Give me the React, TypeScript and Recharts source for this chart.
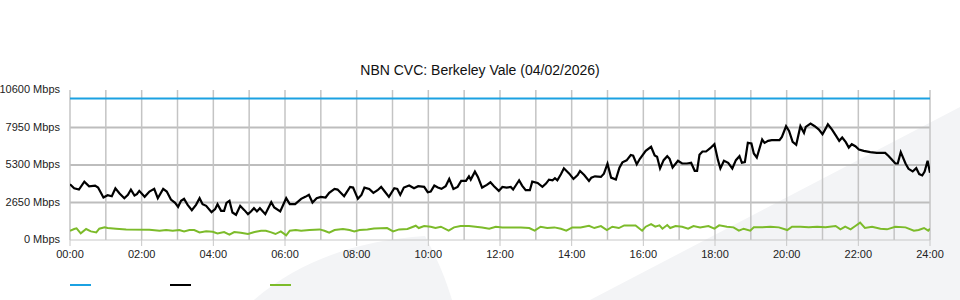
import { LineChart, Line, XAxis, YAxis, CartesianGrid } from "recharts";

// minutes after midnight / Mbps
const blueTimes = [0, 1440];
const blueValues = [10000, 10000];

const blackTimes = [
  0, 7, 15, 24, 32, 42, 47, 56, 63, 70, 76, 83, 91, 97, 102, 108, 112, 116, 125, 133, 141, 147, 156, 162, 169, 176, 181, 186,
  191, 197, 204, 211, 217, 222, 228, 237, 243, 247, 253, 258, 262, 267, 272, 278, 285, 292, 298, 303, 308, 313, 318, 327, 337,
  342, 352, 362, 368, 377, 387, 394, 400, 406, 413, 420, 428, 434, 443, 448, 459, 469, 474, 482, 488, 493, 501, 508, 515, 521,
  527, 534, 543, 548, 553, 559, 568, 576, 583, 593, 599, 604, 610, 616, 622, 629, 635, 642, 649, 655, 663, 668, 671, 678, 683,
  690, 698, 704, 710, 718, 724, 731, 738, 742, 752, 757, 763, 770, 774, 783, 791, 797, 802, 808, 812, 816, 822, 827, 836, 843,
  850, 854, 861, 869, 873, 879, 889, 894, 900, 906, 914, 920, 925, 932, 939, 943, 949, 954, 964, 973, 979, 983, 988, 994, 1000,
  1004, 1009, 1018, 1025, 1033, 1040, 1046, 1050, 1054, 1059, 1065, 1072, 1079, 1085, 1089, 1095, 1102, 1109, 1115, 1121, 1125,
  1130, 1135, 1141, 1145, 1150, 1159, 1163, 1169, 1175, 1181, 1188, 1192, 1199, 1204, 1210, 1216, 1223, 1229, 1232, 1240, 1247,
  1254, 1260, 1265, 1269, 1276, 1283, 1288, 1293, 1299, 1304, 1309, 1315, 1321, 1329, 1340, 1351, 1365, 1371, 1376, 1382, 1386,
  1391, 1399, 1404, 1411, 1417, 1422, 1427, 1431, 1436, 1440,
];
const blackValues = [
  3940, 3658, 3564, 4127, 3799, 3846, 3705, 3002, 3166, 3095, 3658, 3283, 2955, 3189, 3564, 3142, 3236, 3471, 3049, 3424, 3611,
  2955, 3611, 3424, 2861, 2626, 2345, 2767, 2908, 2486, 2111, 2486, 2955, 2533, 2415, 1970, 2181, 2533, 2064, 2064, 2626, 2767,
  1946, 1782, 2415, 2111, 1829, 2017, 2251, 2017, 2251, 1829, 2673, 2298, 2017, 2955, 2533, 2533, 2908, 3049, 3189, 2650, 2955,
  3049, 3002, 3330, 3611, 3564, 3095, 3752, 3705, 2908, 3189, 3705, 3611, 3330, 3518, 3752, 3424, 3049, 3658, 3611, 3189, 3705,
  3846, 3658, 3799, 3752, 3377, 3424, 3846, 3705, 3611, 3799, 4315, 3611, 3752, 4174, 4174, 4502, 4268, 4831, 4456, 3705, 3893,
  4080, 3799, 3471, 3752, 3705, 3752, 3564, 4221, 3846, 3518, 3518, 4127, 4033, 3752, 3987, 4268, 4221, 4362, 4221, 4643, 5065,
  4690, 4315, 4596, 4878, 4596, 4174, 4409, 4502, 4456, 4690, 5394, 4409, 4268, 5112, 5487, 5628, 6003, 5956, 5347, 5722, 6301,
  6583, 5972, 5878, 5055, 5642, 5925, 5736, 5125, 5595, 5407, 5407, 5454, 4890, 4890, 6019, 6254, 6254, 6489, 6771, 5642, 5055,
  5595, 5454, 5055, 5642, 5925, 5454, 5501, 6865, 6818, 6113, 5830, 7100, 6865, 7006, 7053, 7053, 7053, 7288, 8040, 7711, 6935,
  6724, 8040, 7570, 7993, 8229, 8040, 7805, 7476, 7852, 8181, 7805, 7335, 7006, 7241, 6912, 6536, 6771, 6630, 6395, 6301, 6207,
  6160, 6160, 5925, 5689, 5407, 5407, 6207, 5407, 5031, 4843, 5078, 4655, 4561, 4843, 5595, 4749,
];

const greenTimes = [
  0, 7, 11, 18, 27, 35, 44, 49, 58, 63, 77, 94, 133, 150, 161, 172, 183, 191, 200, 208, 217, 228, 239, 247, 258, 267, 275, 286,
  298, 309, 320, 328, 337, 344, 353, 362, 368, 378, 387, 401, 418, 426, 434, 443, 457, 468, 476, 485, 498, 509, 531, 541, 551,
  565, 579, 584, 593, 604, 612, 621, 634, 643, 654, 668, 679, 690, 702, 713, 724, 738, 755, 769, 778, 788, 799, 811, 822, 831,
  841, 855, 869, 878, 889, 899, 908, 919, 928, 947, 958, 964, 973, 980, 987, 992, 1000, 1005, 1014, 1025, 1035, 1044, 1055,
  1069, 1079, 1087, 1100, 1111, 1120, 1128, 1139, 1145, 1159, 1173, 1187, 1201, 1209, 1223, 1237, 1251, 1265, 1282, 1290, 1298,
  1307, 1315, 1323, 1331, 1343, 1357, 1368, 1382, 1399, 1413, 1421, 1430, 1437, 1440,
];
const greenValues = [
  657, 774, 820, 469, 774, 610, 539, 797, 891, 844, 797, 750, 727, 657, 703, 657, 703, 610, 703, 703, 539, 610, 586, 469, 563,
  375, 563, 516, 422, 563, 657, 657, 539, 422, 610, 328, 657, 703, 657, 703, 750, 657, 516, 703, 774, 703, 610, 703, 750, 820,
  844, 610, 750, 774, 1008, 844, 985, 938, 844, 938, 657, 891, 985, 985, 938, 891, 797, 938, 891, 891, 891, 844, 657, 938, 844,
  891, 797, 657, 891, 891, 1008, 844, 985, 703, 938, 844, 1032, 1032, 657, 940, 1128, 940, 1034, 799, 1058, 846, 987, 940, 799,
  987, 893, 987, 799, 1034, 940, 893, 658, 799, 658, 893, 893, 940, 893, 705, 940, 940, 893, 940, 893, 987, 752, 940, 752, 987,
  1223, 846, 940, 799, 752, 940, 893, 658, 705, 846, 658, 799,
];

const yTicks = [0, 2650, 5300, 7950, 10600];
const xTicks = [0, 120, 240, 360, 480, 600, 720, 840, 960, 1080, 1200, 1320, 1440];
const xTickLabels = ["00:00", "02:00", "04:00", "06:00", "08:00", "10:00", "12:00", "14:00", "16:00", "18:00", "20:00", "22:00", "24:00"];
const hourLines = Array.from({ length: 25 }, (_, i) => i * 60);

const BLUE = "#1ba1e2";
const BLACK = "#000000";
const GREEN = "#7cbb2a";

const toPoints = (ts: number[], vs: number[]) => ts.map((t, i) => ({ t, v: vs[i] }));
const bluePts = toPoints(blueTimes, blueValues);
const blackPts = toPoints(blackTimes, blackValues);
const greenPts = toPoints(greenTimes, greenValues);

const font = '"Liberation Sans", Arial, sans-serif';

// plain <text> so Recharts doesn't wrap "10600 Mbps" onto two lines
const YTick = ({ x, y, payload }: any) => (
  <text x={x} y={y} dy={3} textAnchor="end" fill="#222" fontSize={11} fontFamily={font}>
    {`${payload.value} Mbps`}
  </text>
);

export default function App() {
  return (
    <div style={{ position: "absolute", left: 0, top: 0, width: 960, height: 300, background: "#fff", fontFamily: font, overflow: "hidden" }}>
      {/* faint watermark swooshes */}
      <svg width={960} height={300} style={{ position: "absolute", left: 0, top: 0 }}>
        <path d="M254 300 C 300 260, 360 240, 425 236 C 438 260, 446 280, 452 300 Z" fill="#f3f4f6" />
        <path d="M590 300 L960 107 L960 300 Z" fill="#f3f4f6" />
      </svg>

      <div style={{ position: "absolute", top: 61, left: 0, width: 960, textAlign: "center", fontSize: 14, color: "#111", lineHeight: "18px" }}>
        NBN CVC: Berkeley Vale (04/02/2026)
      </div>

      <div style={{ position: "absolute", left: 0, top: 0 }}>
        <LineChart width={960} height={300} margin={{ top: 90, right: 30, bottom: 40, left: 0 }}>
          <CartesianGrid horizontal vertical={false} horizontalValues={[2650, 5300, 7950]} stroke="#bdbdbd" strokeWidth={2} />
          <CartesianGrid horizontal={false} vertical verticalValues={hourLines} stroke="#c4c4c4" strokeWidth={1.5} />
          <XAxis
            type="number"
            dataKey="t"
            domain={[0, 1440]}
            ticks={xTicks}
            tickFormatter={(v: number) => xTickLabels[xTicks.indexOf(v)]}
            height={20}
            tickSize={6}
            tickMargin={4}
            stroke="#c8c8c8"
            tick={{ fill: "#222", fontSize: 11, fontFamily: font }}
            allowDataOverflow
          />
          <YAxis
            type="number"
            dataKey="v"
            domain={[0, 10600]}
            ticks={yTicks}
            width={70}
            axisLine={false}
            tickLine={false}
            tickMargin={4}
            tick={<YTick />}
            allowDataOverflow
          />
          <Line data={bluePts} dataKey="v" type="linear" stroke={BLUE} strokeWidth={2} dot={false} isAnimationActive={false} />
          <Line data={greenPts} dataKey="v" type="linear" stroke={GREEN} strokeWidth={2} dot={false} isAnimationActive={false} />
          <Line data={blackPts} dataKey="v" type="linear" stroke={BLACK} strokeWidth={2.2} dot={false} isAnimationActive={false} />
        </LineChart>
      </div>

      {/* legend swatches (no labels in the reference) */}
      {[BLUE, BLACK, GREEN].map((c, i) => (
        <div key={i} style={{ position: "absolute", left: 70 + i * 100, top: 284, width: 21, height: 2, background: c }} />
      ))}
    </div>
  );
}
